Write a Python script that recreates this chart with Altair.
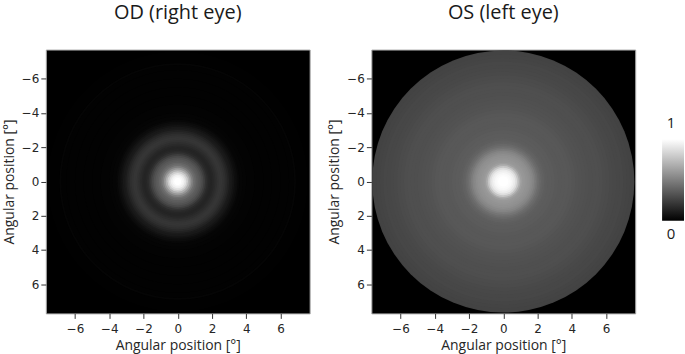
import math
import altair as alt
import pandas as pd

# ---------------- data ----------------
extent = [-7.7, 7.7]
tick_values = [-6, -4, -2, 0, 2, 4, 6]
cmap_range = ["#000000", "#ffffff"]
cbar_ticks = [0, 1]
cbar_labels = ["0", "1"]

# radial intensity profile (outer radius of each ring in degrees, normalized value)
od_radius = [0.1, 0.2, 0.3, 0.4, 0.5, 0.6, 0.7, 0.8, 0.9, 1.0,
             1.1, 1.2, 1.3, 1.4, 1.5, 1.6, 1.7, 1.8, 1.9, 2.0,
             2.1, 2.2, 2.3, 2.4, 2.5, 2.6, 2.7, 2.8, 2.9, 3.0,
             3.1, 3.2, 3.3, 3.4, 3.5, 3.6, 3.8, 4.0, 4.5, 5.0,
             5.5, 6.0, 6.5, 6.8, 6.9, 7.6]
od_value = [1.0, 1.0, 0.98, 0.95, 0.90, 0.82, 0.72, 0.62, 0.53, 0.47,
            0.43, 0.40, 0.38, 0.35, 0.31, 0.26, 0.21, 0.17, 0.15, 0.14,
            0.15, 0.17, 0.19, 0.21, 0.22, 0.22, 0.21, 0.19, 0.16, 0.13,
            0.10, 0.08, 0.06, 0.04, 0.03, 0.02, 0.015, 0.01, 0.008, 0.006,
            0.005, 0.005, 0.005, 0.005, 0.015, 0.003]

os_radius = [0.1, 0.2, 0.3, 0.4, 0.5, 0.6, 0.7, 0.8, 0.9, 1.0,
             1.1, 1.2, 1.3, 1.4, 1.5, 1.6, 1.7, 1.8, 1.9, 2.0,
             2.1, 2.2, 2.3, 2.4, 2.5,
             2.6, 2.8, 3.0, 3.2, 3.4, 3.6, 3.8, 4.0, 4.2, 4.4,
             4.6, 4.8, 5.0, 5.2, 5.4, 5.6, 5.8, 6.0, 6.2, 6.4,
             6.6, 6.8, 7.0, 7.2, 7.4, 7.6, 7.65]
os_value = [1.0, 1.0, 1.0, 0.99, 0.98, 0.96, 0.93, 0.88, 0.80, 0.71,
            0.65, 0.63, 0.62, 0.61, 0.60, 0.59, 0.57, 0.55, 0.52, 0.49,
            0.46, 0.44, 0.42, 0.41, 0.40,
            0.395, 0.39, 0.385, 0.38, 0.375, 0.375, 0.375, 0.37, 0.36, 0.355,
            0.35, 0.345, 0.34, 0.335, 0.335, 0.335, 0.33, 0.325, 0.32, 0.31,
            0.305, 0.30, 0.30, 0.295, 0.29, 0.285, 0.28]

PLOT = 265
AXIS_TITLE = "Angular position [°]"


def eye_panel(title, radius, value):
    rings = pd.DataFrame({"r": radius, "v": value}).sort_values("r", ascending=False)
    xs = alt.Scale(domain=extent, nice=False, zero=False)
    ys = alt.Scale(domain=extent, nice=False, zero=False, reverse=True)
    return (
        alt.Chart(rings)
        .mark_arc(theta=0, theta2=2 * math.pi)
        .encode(
            x=alt.X(datum=0, scale=xs, axis=alt.Axis(values=tick_values, title=AXIS_TITLE)),
            y=alt.Y(datum=0, scale=ys, axis=alt.Axis(values=tick_values, title=AXIS_TITLE)),
            radius=alt.Radius(
                "r:Q",
                stack=None,
                scale=alt.Scale(type="linear", domain=[0, extent[1]], range=[0, PLOT / 2]),
            ),
            color=alt.Color("v:Q", scale=alt.Scale(domain=[0, 1], range=cmap_range), legend=None),
        )
        .properties(
            width=PLOT,
            height=PLOT,
            title=alt.TitleParams(
                title, font="Open Sans", fontSize=20, fontWeight="normal",
                color="#1a1a1a", offset=27, anchor="middle",
            ),
            view=alt.ViewBackground(fill="black", stroke="#aaaaaa"),
        )
    )


od = eye_panel("OD (right eye)", od_radius, od_value)
os_ = eye_panel("OS (left eye)", os_radius, os_value)

# ---------------- colorbar ----------------
cb_scale = alt.Scale(domain=[0, 1], range=[172, 90])
cb_df = pd.DataFrame({"lo": [cbar_ticks[0]], "hi": [cbar_ticks[1]]})
grad = alt.LinearGradient(
    gradient="linear",
    stops=[alt.GradientStop(offset=0, color=cmap_range[1]),
           alt.GradientStop(offset=1, color=cmap_range[0])],
    x1=0, x2=0, y1=0, y2=1,
)
cb_rect = alt.Chart(cb_df).mark_rect(fill=grad).encode(
    y=alt.Y("hi:Q", scale=cb_scale, axis=None),
    y2="lo:Q",
    x=alt.value(0),
    x2=alt.value(22),
)
lab_df = pd.DataFrame({"t": cbar_ticks, "label": cbar_labels})
lab_top = alt.Chart(lab_df).transform_filter("datum.t == 1").mark_text(
    font="Open Sans", fontSize=15, color="#1a1a1a", dy=-16
).encode(y=alt.Y("t:Q", scale=cb_scale, axis=None), x=alt.value(9), text="label:N")
lab_bot = alt.Chart(lab_df).transform_filter("datum.t == 0").mark_text(
    font="Open Sans", fontSize=15, color="#1a1a1a", dy=13
).encode(y=alt.Y("t:Q", scale=cb_scale, axis=None), x=alt.value(9), text="label:N")

cbar = alt.layer(cb_rect, lab_top, lab_bot).properties(
    width=22, height=PLOT,
    view=alt.ViewBackground(stroke="transparent", fill="transparent"),
)

chart = (
    alt.hconcat(alt.hconcat(od, os_, spacing=16), cbar, spacing=25)
    .properties(padding={"left": 1, "right": 0, "top": 1, "bottom": 0}, background="white")
    .configure_axis(
        labelFont="DejaVu Sans", labelFontSize=12, labelColor="#262626",
        titleFont="Open Sans", titleFontSize=14, titleFontWeight="normal", titleColor="#262626",
        tickColor="#333333", tickSize=5, domain=False, grid=False,
    )
    .configure_axisX(labelPadding=5, titlePadding=4)
    .configure_axisY(labelPadding=2, titlePadding=5)
    .configure_view(stroke="#aaaaaa")
)

chart.save("out.html", embed_options={"renderer": "svg", "actions": False})
